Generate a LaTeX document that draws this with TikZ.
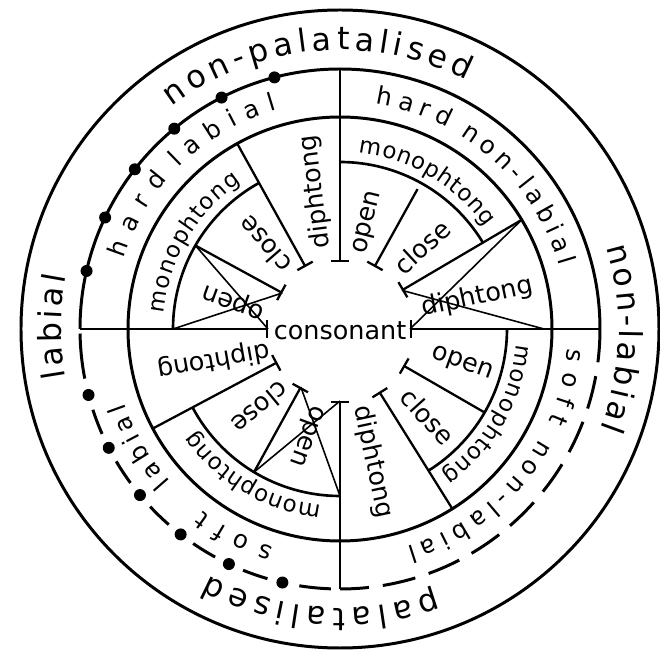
\documentclass[tikz,border=0pt]{standalone}
\usepackage{fontspec}
\setmainfont{DejaVu Sans}
\usetikzlibrary{arrows.meta, decorations.text}

\newcommand{\outerfont}{\fontsize{18}{20}\selectfont}
\newcommand{\ringfont}{\fontsize{14}{16}\selectfont}
\newcommand{\bandfont}{\fontsize{13}{15}\selectfont}
\newcommand{\wordfont}{\fontsize{14.5}{16}\selectfont}

\begin{document}
\begin{tikzpicture}[
    x=0.02cm, y=0.02cm,
    ring/.style={line width=1.7pt},
    inner ring/.style={line width=1.5pt},
    spoke/.style={line width=1.3pt, -{Bar[width=10pt]}},
    cross/.style={line width=0.9pt},
    word/.style={font=\wordfont, inner sep=1pt},
    along/.style 2 args={decorate, decoration={text along path, text={|#1|#2}, text align=fit to path}}
]
    \useasboundingbox (-340,-326) rectangle (320,329);

    % circles
    \draw[ring] (0,0) circle[radius=319];
    \draw[ring] (0,0) circle[radius=212];
    \draw[ring] (0:260) arc[start angle=0, end angle=180, radius=260];
    \draw[ring, dash pattern=on 19pt off 8pt] (0:260) arc[start angle=0, end angle=-90, radius=260];
    \draw[ring] (181:260) arc[start angle=181, end angle=191, radius=260];
    \foreach \a in {194.7,207.2,219.7,232.2,244.7}
        \draw[ring] ({\a+3.4}:260) arc[start angle=\a+3.4, end angle=\a+9.1, radius=260];
    \draw[ring] (261:260) arc[start angle=261, end angle=268, radius=260];
    \foreach \a in {104.6,117.1,129.6,142.1,154.6,167.1,194.7,207.2,219.7,232.2,244.7,257.2}
        \fill (\a:260) circle[radius=6];

    \node[word] (cons) at (0,-2) {consonant};

    % ends of the lines
    \coordinate (rimE) at (0:260);
    \coordinate (rimN) at (90:260);
    \coordinate (rimW) at (180:260);
    \coordinate (rimS) at (270:260);
    \coordinate (hubE) at (0:70);
    \coordinate (hubN) at (90:67);
    \coordinate (hubW) at (180:72);
    \coordinate (hubS) at (270:72);

    \coordinate (trClose) at (61:160);
    \coordinate (trCloseT) at (61:71);
    \coordinate (trDiph) at (31:212);
    \coordinate (trDiphT) at (32:73);
    \coordinate (trEnd) at (0:204);
    \coordinate (trArc) at (90:167);

    \coordinate (tlDiph) at (119:212);
    \coordinate (tlDiphT) at (119:71);
    \coordinate (tlClose) at (150:167);
    \coordinate (tlCloseT) at (148:68);
    \coordinate (tlArc) at (180:167);

    \coordinate (blDiph) at (208:212);
    \coordinate (blDiphT) at (208:71);
    \coordinate (blClose) at (239:167);
    \coordinate (blCloseT) at (236:70);
    \coordinate (blArc) at (270:167);

    \coordinate (brOpen) at (330:167);
    \coordinate (brOpenT) at (330:73);
    \coordinate (brDiph) at (302:212);
    \coordinate (brDiphT) at (302:74);
    \coordinate (brArc) at (0:167);

    % monophtong arcs
    \draw[inner ring] (tlArc) arc[start angle=180, end angle=119, radius=167];
    \draw[inner ring] (trArc) arc[start angle=90, end angle=31, radius=167];
    \draw[inner ring] (brArc) arc[start angle=0, end angle=-58, radius=167];
    \draw[inner ring] (blArc) arc[start angle=270, end angle=208, radius=167];

    \draw[spoke] (rimE) -- (hubE);
    \draw[spoke] (rimN) -- (hubN);
    \draw[spoke] (rimW) -- (hubW);
    \draw[spoke] (rimS) -- (hubS);

    \draw[spoke] (trClose) -- (trCloseT);
    \draw[spoke] (trDiph) -- (trDiphT);
    \draw[cross] (trDiph) -- (hubE);
    \draw[cross] (trDiphT) -- (trEnd);

    \draw[spoke] (tlDiph) -- (tlDiphT);
    \draw[spoke] (tlClose) -- (tlCloseT);
    \draw[cross] (tlClose) -- (hubW);
    \draw[cross] (tlArc) -- (tlCloseT);

    \draw[spoke] (blDiph) -- (blDiphT);
    \draw[spoke] (blClose) -- (blCloseT);
    \draw[cross] (blClose) -- (hubS);
    \draw[cross] (blCloseT) -- (blArc);

    \draw[spoke] (brOpen) -- (brOpenT);
    \draw[spoke] (brDiph) -- (brDiphT);

    % labels of the sectors
    \node[word, rotate=97] (tlDiphLbl) at (100:139) {diphtong};
    \node[word, rotate=131] (tlCloseLbl) at (132:113) {close};
    \node[word, rotate=160] (tlOpenLbl) at (165:110) {open};
    \node[word, rotate=76] (trOpenLbl) at (75:110) {open};
    \node[word, rotate=43] (trCloseLbl) at (45:116) {close};
    \node[word, rotate=12] (trDiphLbl) at (13:141) {diphtong};
    \node[word, rotate=-20] (brOpenLbl) at (-16:127) {open};
    \node[word, rotate=-48] (brCloseLbl) at (-45:124) {close};
    \node[word, rotate=-78] (brDiphLbl) at (-76:137) {diphtong};
    \node[word, rotate=190] (blDiphLbl) at (194:130) {diphtong};
    \node[word, rotate=220] (blCloseLbl) at (225:112) {close};
    \node[word, rotate=250] (blOpenLbl) at (252:112) {open};

    % curved labels
    \path[along={\bandfont}{monophtong}] (175:177) arc[start angle=175, end angle=124, radius=177];
    \path[along={\bandfont}{monophtong}] (84:177) arc[start angle=84, end angle=35, radius=177];
    \path[along={\bandfont}{monophtong}] (-5:177) arc[start angle=-5, end angle=-55, radius=177];
    \path[along={\bandfont}{monophtong}] (264:177) arc[start angle=264, end angle=215, radius=177];

    \path[along={\ringfont}{hard}] (162:228) arc[start angle=162, end angle=139, radius=228];
    \path[along={\ringfont}{labial}] (135:228) arc[start angle=135, end angle=106, radius=228];
    \path[along={\ringfont}{hard}] (81:228) arc[start angle=81, end angle=62, radius=228];
    \path[along={\ringfont}{non-labial}] (58:228) arc[start angle=58, end angle=16, radius=228];
    \path[along={\ringfont}{soft}] (-5:228) arc[start angle=-5, end angle=-24, radius=228];
    \path[along={\ringfont}{non-labial}] (-29:228) arc[start angle=-29, end angle=-73, radius=228];
    \path[along={\ringfont}{soft}] (253:228) arc[start angle=253, end angle=233, radius=228];
    \path[along={\ringfont}{labial}] (222:228) arc[start angle=222, end angle=199, radius=228];

    \path[along={\outerfont}{non-palatalised}] (127:279) arc[start angle=127, end angle=63, radius=279];
    \path[along={\outerfont}{non-labial}] (17:279) arc[start angle=17, end angle=-21, radius=279];
    \path[along={\outerfont}{palatalised}] (290:279) arc[start angle=290, end angle=242, radius=279];
    \path[along={\outerfont}{labial}] (190:279) arc[start angle=190, end angle=169, radius=279];
\end{tikzpicture}
\end{document}
